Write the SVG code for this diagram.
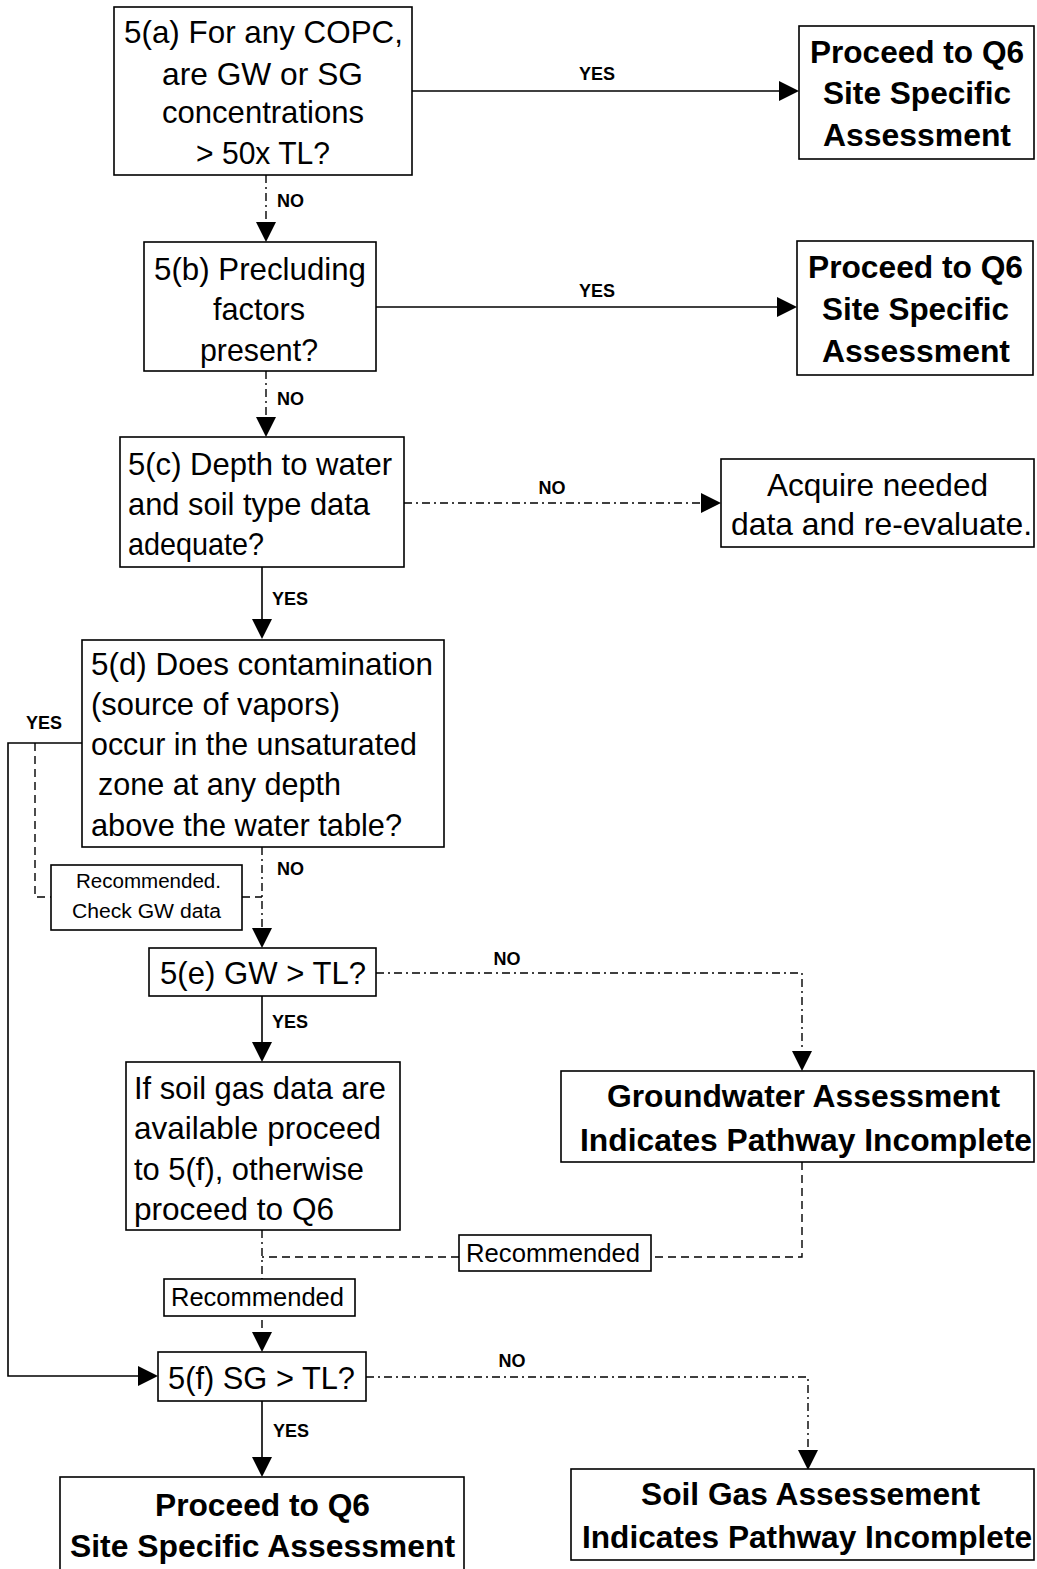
<svg xmlns="http://www.w3.org/2000/svg" width="1037" height="1569" viewBox="0 0 1037 1569">
<defs>
<marker id="ah" markerWidth="20" markerHeight="20" refX="18" refY="10" orient="auto" markerUnits="userSpaceOnUse">
<path d="M0,0 L20,10 L0,20 Z" fill="#000"/>
</marker>
<style>
.box{fill:#fff;stroke:#000;stroke-width:1.6}
.t{font-family:"Liberation Sans",Arial,sans-serif;font-size:32px;fill:#000}
.tb{font-family:"Liberation Sans",Arial,sans-serif;font-size:32px;font-weight:bold;fill:#000}
.c{text-anchor:middle}
.lbl{font-family:"Liberation Sans",Arial,sans-serif;font-size:18px;font-weight:bold;fill:#000}
.sm{font-family:"Liberation Sans",Arial,sans-serif;font-size:20px;fill:#000;text-anchor:middle}
.rc{font-family:"Liberation Sans",Arial,sans-serif;font-size:25px;fill:#000;text-anchor:middle}
.solid{fill:none;stroke:#000;stroke-width:1.6}
.dd{fill:none;stroke:#000;stroke-width:1.4;stroke-dasharray:8,4,2,4}
.da{fill:none;stroke:#000;stroke-width:1.4;stroke-dasharray:8,5}
</style>
</defs>
<rect width="1037" height="1569" fill="#fff"/>
<g id="connectors">
<path class="solid" d="M412,91 L797,91" marker-end="url(#ah)"/>
<path class="dd" d="M266,175 L266,240" marker-end="url(#ah)"/>
<path class="solid" d="M376,307 L795,307" marker-end="url(#ah)"/>
<path class="dd" d="M266,371 L266,435" marker-end="url(#ah)"/>
<path class="dd" d="M404,503 L719,503" marker-end="url(#ah)"/>
<path class="solid" d="M262,567 L262,637" marker-end="url(#ah)"/>
<path class="solid" d="M82,743 L8,743 L8,1376 L156,1376" marker-end="url(#ah)"/>
<path class="da" d="M35,743 L35,897 L51,897"/>
<path class="da" d="M242,897 L262,897"/>
<path class="dd" d="M262,847 L262,946" marker-end="url(#ah)"/>
<path class="dd" d="M376,973 L802,973 L802,1069" marker-end="url(#ah)"/>
<path class="solid" d="M262,996 L262,1060" marker-end="url(#ah)"/>
<path class="da" d="M802,1162 L802,1257 L651,1257"/>
<path class="da" d="M459,1257 L262,1257"/>
<path class="dd" d="M262,1230 L262,1350" marker-end="url(#ah)"/>
<path class="dd" d="M366,1377 L808,1377 L808,1468" marker-end="url(#ah)"/>
<path class="solid" d="M262,1401 L262,1475" marker-end="url(#ah)"/>
<text class="lbl c" x="597" y="80">YES</text>
<text class="lbl" x="277" y="207">NO</text>
<text class="lbl c" x="597" y="297">YES</text>
<text class="lbl" x="277" y="405">NO</text>
<text class="lbl c" x="552" y="494">NO</text>
<text class="lbl" x="272" y="605">YES</text>
<text class="lbl c" x="44" y="729">YES</text>
<text class="lbl" x="277" y="875">NO</text>
<text class="lbl c" x="507" y="965">NO</text>
<text class="lbl" x="272" y="1028">YES</text>
<text class="lbl c" x="512" y="1367">NO</text>
<text class="lbl" x="273" y="1437">YES</text>
</g>
<g id="n5a">
<rect class="box" x="114" y="7" width="298" height="168"/>
<text class="t c" x="263.5" y="43" textLength="279" lengthAdjust="spacingAndGlyphs">5(a) For any COPC,</text>
<text class="t c" x="262.5" y="85" textLength="201" lengthAdjust="spacingAndGlyphs">are GW or SG</text>
<text class="t c" x="263" y="123" textLength="202" lengthAdjust="spacingAndGlyphs">concentrations</text>
<text class="t c" x="263" y="164" textLength="134" lengthAdjust="spacingAndGlyphs">&gt; 50x TL?</text>
</g>
<g id="q6a">
<rect class="box" x="799" y="26" width="235" height="133"/>
<text class="tb c" x="917" y="63" textLength="214" lengthAdjust="spacingAndGlyphs">Proceed to Q6</text>
<text class="tb c" x="917" y="104" textLength="188" lengthAdjust="spacingAndGlyphs">Site Specific</text>
<text class="tb c" x="917" y="146" textLength="188" lengthAdjust="spacingAndGlyphs">Assessment</text>
</g>
<g id="n5b">
<rect class="box" x="144" y="242" width="232" height="129"/>
<text class="t c" x="260" y="280" textLength="212" lengthAdjust="spacingAndGlyphs">5(b) Precluding</text>
<text class="t c" x="259" y="320" textLength="92" lengthAdjust="spacingAndGlyphs">factors</text>
<text class="t c" x="259" y="361" textLength="118" lengthAdjust="spacingAndGlyphs">present?</text>
</g>
<g id="q6b">
<rect class="box" x="797" y="241" width="236" height="134"/>
<text class="tb c" x="915.5" y="278" textLength="215" lengthAdjust="spacingAndGlyphs">Proceed to Q6</text>
<text class="tb c" x="915.5" y="320" textLength="187" lengthAdjust="spacingAndGlyphs">Site Specific</text>
<text class="tb c" x="916" y="362" textLength="188" lengthAdjust="spacingAndGlyphs">Assessment</text>
</g>
<g id="n5c">
<rect class="box" x="120" y="437" width="284" height="130"/>
<text class="t" x="128" y="475" textLength="264" lengthAdjust="spacingAndGlyphs">5(c) Depth to water</text>
<text class="t" x="128" y="515" textLength="242" lengthAdjust="spacingAndGlyphs">and soil type data</text>
<text class="t" x="128" y="555" textLength="136" lengthAdjust="spacingAndGlyphs">adequate?</text>
</g>
<g id="acquire">
<rect class="box" x="721" y="459" width="313" height="88"/>
<text class="t c" x="877.5" y="496" textLength="221" lengthAdjust="spacingAndGlyphs">Acquire needed</text>
<text class="t c" x="881.5" y="535" textLength="301" lengthAdjust="spacingAndGlyphs">data and re-evaluate.</text>
</g>
<g id="n5d">
<rect class="box" x="82" y="640" width="362" height="207"/>
<text class="t" x="91" y="675" textLength="342" lengthAdjust="spacingAndGlyphs">5(d) Does contamination</text>
<text class="t" x="91" y="715" textLength="249" lengthAdjust="spacingAndGlyphs">(source of vapors)</text>
<text class="t" x="91" y="755" textLength="326" lengthAdjust="spacingAndGlyphs">occur in the unsaturated</text>
<text class="t" x="98" y="795" textLength="243" lengthAdjust="spacingAndGlyphs">zone at any depth</text>
<text class="t" x="91" y="836" textLength="311" lengthAdjust="spacingAndGlyphs">above the water table?</text>
</g>
<g id="recGW">
<rect class="box" x="51" y="865" width="191" height="65"/>
<text class="sm" x="148.5" y="888" textLength="145" lengthAdjust="spacingAndGlyphs">Recommended.</text>
<text class="sm" x="146.5" y="918" textLength="149" lengthAdjust="spacingAndGlyphs">Check GW data</text>
</g>
<g id="n5e">
<rect class="box" x="149" y="948" width="227" height="48"/>
<text class="t c" x="263" y="984" textLength="206" lengthAdjust="spacingAndGlyphs">5(e) GW &gt; TL?</text>
</g>
<g id="soilgasif">
<rect class="box" x="126" y="1062" width="274" height="168"/>
<text class="t" x="134" y="1099" textLength="252" lengthAdjust="spacingAndGlyphs">If soil gas data are</text>
<text class="t" x="134" y="1139" textLength="247" lengthAdjust="spacingAndGlyphs">available proceed</text>
<text class="t" x="134" y="1180" textLength="230" lengthAdjust="spacingAndGlyphs">to 5(f), otherwise</text>
<text class="t" x="134" y="1220" textLength="200" lengthAdjust="spacingAndGlyphs">proceed to Q6</text>
</g>
<g id="gwinc">
<rect class="box" x="561" y="1071" width="473" height="91"/>
<text class="tb c" x="803.5" y="1107" textLength="393" lengthAdjust="spacingAndGlyphs">Groundwater Assessment</text>
<text class="tb c" x="806" y="1151" textLength="452" lengthAdjust="spacingAndGlyphs">Indicates Pathway Incomplete</text>
</g>
<g id="rec1">
<rect class="box" x="459" y="1235" width="192" height="36"/>
<text class="rc" x="553" y="1262" textLength="174" lengthAdjust="spacingAndGlyphs">Recommended</text>
</g>
<g id="rec2">
<rect class="box" x="164" y="1279" width="191" height="37"/>
<text class="rc" x="257.5" y="1306" textLength="173" lengthAdjust="spacingAndGlyphs">Recommended</text>
</g>
<g id="n5f">
<rect class="box" x="158" y="1352" width="208" height="49"/>
<text class="t c" x="261.5" y="1389" textLength="187" lengthAdjust="spacingAndGlyphs">5(f) SG &gt; TL?</text>
</g>
<g id="q6c">
<rect class="box" x="60" y="1477" width="404" height="95"/>
<text class="tb c" x="262.5" y="1516" textLength="215" lengthAdjust="spacingAndGlyphs">Proceed to Q6</text>
<text class="tb c" x="262.5" y="1557" textLength="385" lengthAdjust="spacingAndGlyphs">Site Specific Assessment</text>
</g>
<g id="sginc">
<rect class="box" x="571" y="1469" width="463" height="91"/>
<text class="tb c" x="810.5" y="1505" textLength="339" lengthAdjust="spacingAndGlyphs">Soil Gas Assessement</text>
<text class="tb c" x="807" y="1548" textLength="450" lengthAdjust="spacingAndGlyphs">Indicates Pathway Incomplete</text>
</g>
</svg>
